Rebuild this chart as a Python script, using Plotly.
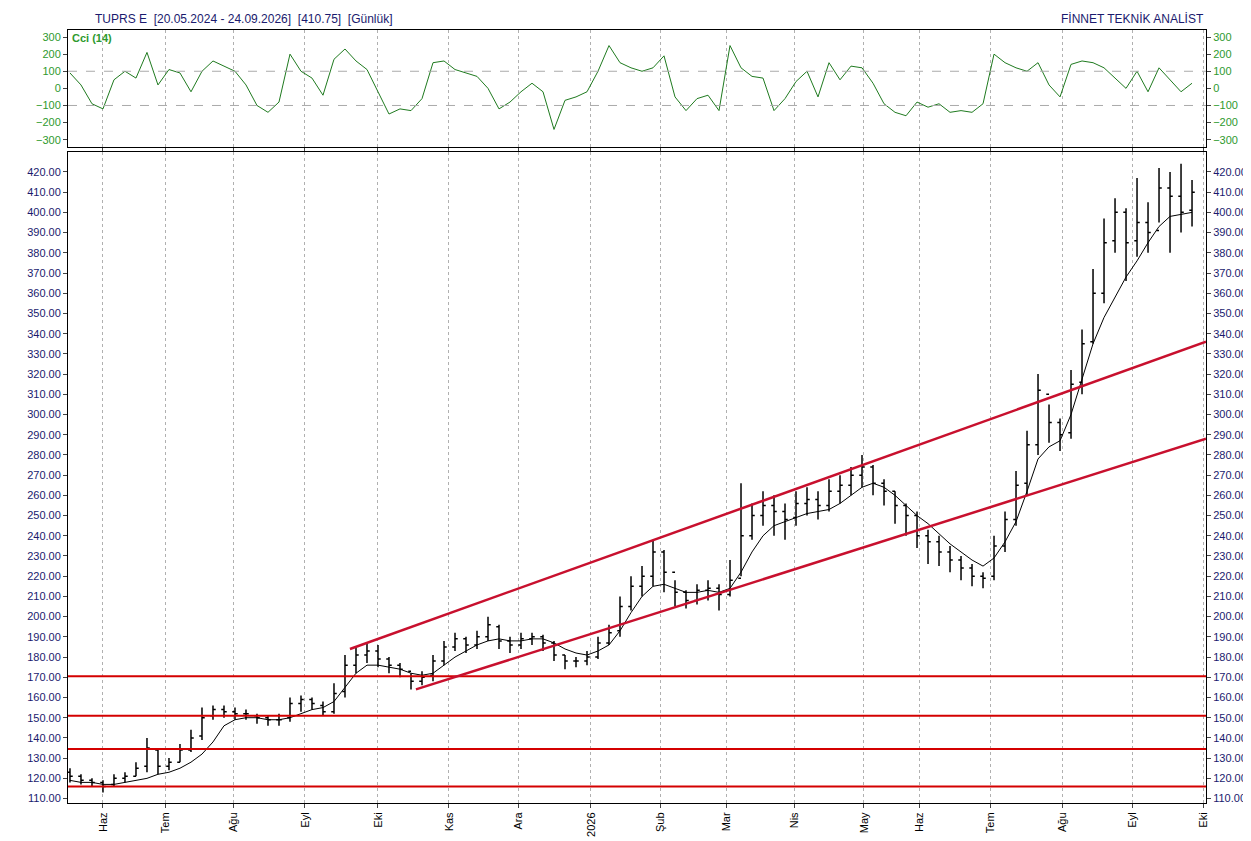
import plotly.graph_objs as go
from plotly.subplots import make_subplots

# bar index ~ one bar every few trading days
close = [121,119,118,116,120,121,125,135,126,128,134,140,150,154,153,152,152,150,149,149,
         157,159,157,153,162,176,181,183,179,176,174,168,170,178,185,189,186,190,196,188,
         186,189,190,187,181,178,178,180,187,192,205,215,220,232,222,212,208,213,214,211,
         218,240,250,255,252,248,256,258,255,262,265,270,274,266,262,255,250,240,237,232,
         228,224,220,219,235,248,265,285,312,296,290,315,335,360,385,400,385,395,390,412,
         408,400,410]
opn = [123,121,119,118,117,120,121,126,134,126,128,134,141,151,154,153,152,151,150,149,
       150,157,159,156,153,163,176,181,183,179,176,173,168,171,178,185,189,186,190,195,
       188,186,189,190,187,181,178,178,180,187,193,205,215,220,232,222,212,208,213,214,
       211,219,240,250,255,252,249,256,258,255,262,265,270,274,266,262,255,250,240,237,
       232,228,224,220,220,235,248,266,285,310,296,291,316,336,360,386,400,386,395,391,
       412,408,401]
high = [125,122,120,119,122,123,128,140,134,130,137,144,155,156,156,155,154,152,151,152,
        160,161,160,158,167,181,185,187,186,180,177,172,173,181,188,192,190,193,200,196,
        190,192,192,191,188,181,180,183,190,196,210,220,225,238,233,218,213,216,218,216,
        228,266,256,262,260,256,262,264,262,268,270,274,280,275,268,262,256,252,243,240,
        235,230,226,222,240,252,272,292,320,305,298,322,342,372,397,407,402,417,405,422,
        420,424,416]
low = [118,117,116,113,116,118,121,123,122,124,128,133,139,149,150,149,149,147,146,146,
       148,153,154,151,152,160,172,177,175,172,170,164,166,168,176,183,182,184,188,184,
       182,184,186,183,178,174,175,176,179,186,190,203,210,215,212,205,204,206,208,203,
       210,220,238,245,240,238,245,250,248,252,256,260,264,260,255,246,240,234,226,225,
       222,218,215,214,218,232,245,260,280,286,282,288,310,335,355,380,366,378,380,395,
       380,390,393]
ma = [119,118,118,117,117,118,119,120,122,123,125,128,132,138,146,149,150,150,149,149,
      150,152,154,155,158,165,172,176,176,175,174,172,171,172,176,180,183,186,188,189,
      188,188,189,189,187,184,182,181,183,186,193,202,210,215,216,214,212,212,213,212,
      214,222,232,240,245,247,249,251,252,253,256,260,264,266,264,260,255,250,246,241,
      236,232,228,225,229,237,247,262,278,284,287,300,318,335,348,358,368,376,385,393,
      398,399,400]
cci = [90,20,-90,-120,50,100,60,210,20,110,90,-20,100,160,130,100,20,-100,-140,-80,
       200,100,60,-40,170,230,160,110,-20,-150,-120,-130,-60,150,160,110,90,70,0,-120,
       -80,-20,30,-20,-240,-70,-50,-20,100,250,150,120,100,120,190,-50,-130,-60,-40,-130,
       250,120,70,60,-130,-60,40,100,-50,150,50,130,120,30,-90,-140,-160,-80,-110,-90,
       -140,-130,-140,-90,200,150,120,100,150,20,-50,140,160,150,120,60,0,100,-20,120,
       50,-20,30]
idx = list(range(len(close)))

month_pos = [3.0, 8.64, 14.82, 21.36, 28.0, 34.45, 40.73, 47.36, 53.64, 59.64, 65.9,
             72.18, 77.18, 83.64, 90.18, 96.55, 103.0]
month_txt = ['Haz', 'Tem', 'Ağu', 'Eyl', 'Eki', 'Kas', 'Ara', '2026', 'Şub', 'Mar', 'Nis',
             'May', 'Haz', 'Tem', 'Ağu', 'Eyl', 'Eki']

support_levels = [170.5, 151, 134.5, 116]
chan_up_x, chan_up_y = [25.45, 103.27], [184, 336]
chan_lo_x, chan_lo_y = [31.45, 103.27], [164, 288]

xr = [-0.18, 103.27]
navy = '#1a1a6e'
green = '#2e9a2e'

fig = make_subplots(rows=2, cols=1, shared_xaxes=True, vertical_spacing=0.007,
                    row_heights=[0.151, 0.842])

fig.add_trace(go.Scatter(x=idx, y=cci, mode='lines', line=dict(color='#1f7a1f', width=1),
                         showlegend=False, hoverinfo='skip'), 1, 1)
fig.add_trace(go.Ohlc(x=idx, open=opn, high=high, low=low, close=close,
                      increasing_line_color='black', decreasing_line_color='black',
                      line_width=1.5, tickwidth=0.25, showlegend=False), 2, 1)
fig.add_trace(go.Scatter(x=idx, y=ma, mode='lines', line=dict(color='black', width=1),
                         showlegend=False, hoverinfo='skip'), 2, 1)
for lv in support_levels:
    fig.add_trace(go.Scatter(x=xr, y=[lv, lv], mode='lines', line=dict(color='#d40000', width=2),
                             showlegend=False, hoverinfo='skip'), 2, 1)
for cx, cy in [(chan_up_x, chan_up_y), (chan_lo_x, chan_lo_y)]:
    fig.add_trace(go.Scatter(x=cx, y=cy, mode='lines', line=dict(color='#c8102e', width=2.5),
                             showlegend=False, hoverinfo='skip'), 2, 1)
for lv in [100, -100]:
    fig.add_trace(go.Scatter(x=xr, y=[lv, lv], mode='lines',
                             line=dict(color='#aaaaaa', width=1, dash='dash'),
                             showlegend=False, hoverinfo='skip'), 1, 1)

# right-hand tick labels
fig.add_trace(go.Scatter(x=[0], y=[0], yaxis='y3', xaxis='x', mode='markers',
                         marker=dict(opacity=0), showlegend=False, hoverinfo='skip'))
fig.add_trace(go.Scatter(x=[0], y=[200], yaxis='y4', xaxis='x2', mode='markers',
                         marker=dict(opacity=0), showlegend=False, hoverinfo='skip'))

ax_common = dict(showline=True, linecolor='black', linewidth=1, mirror=True, zeroline=False)
fig.update_xaxes(range=xr, tickvals=month_pos, ticktext=month_txt, showgrid=True,
                 gridcolor='#b0b0b0', griddash='dot', gridwidth=1, ticks='outside',
                 ticklen=4, tickangle=-90, tickfont=dict(size=11, color='black',
                 family='Arial'), rangeslider_visible=False, **ax_common)
fig.update_xaxes(showticklabels=False, row=1, col=1)
fig.update_yaxes(range=[-341, 341], tickvals=[-300, -200, -100, 0, 100, 200, 300],
                 showgrid=False, ticks='outside', ticklen=4,
                 tickfont=dict(size=11, color=green, family='Arial'), row=1, col=1, **ax_common)
fig.update_yaxes(range=[107.8, 429.8], dtick=10, tickformat='.2f', showgrid=False,
                 ticks='outside', ticklen=4,
                 tickfont=dict(size=11, color=navy, family='Arial'), row=2, col=1, **ax_common)

fig.update_layout(
    width=1251, height=841, plot_bgcolor='white', paper_bgcolor='white',
    margin=dict(l=60, r=53, t=22, b=39),
    xaxis2_rangeslider_visible=False,
    yaxis3=dict(overlaying='y', side='right', range=[-341, 341],
                tickvals=[-300, -200, -100, 0, 100, 200, 300], showgrid=False, zeroline=False,
                ticks='outside', ticklen=4, tickfont=dict(size=11, color=green, family='Arial')),
    yaxis4=dict(overlaying='y2', side='right', range=[107.8, 429.8], dtick=10,
                tickformat='.2f', showgrid=False, zeroline=False, ticks='outside', ticklen=4,
                tickfont=dict(size=11, color=navy, family='Arial')),
    annotations=[
        dict(text='TUPRS E  [20.05.2024 - 24.09.2026]  [410.75]  [Günlük]', x=0.022, y=1.0,
             xref='paper', yref='paper', xanchor='left', yanchor='bottom', showarrow=False,
             yshift=2, font=dict(size=12, color=navy, family='Arial')),
        dict(text='FİNNET TEKNİK ANALİST', x=1.0, y=1.0, xref='paper', yref='paper',
             xanchor='right', yanchor='bottom', showarrow=False, yshift=2,
             font=dict(size=12, color=navy, family='Arial')),
        dict(text='<b>Cci (14)</b>', x=0.002, y=1.0, xref='paper', yref='paper',
             xanchor='left', yanchor='top', showarrow=False,
             font=dict(size=11, color=green, family='Arial')),
    ],
)

fig.write_html("out.html")
